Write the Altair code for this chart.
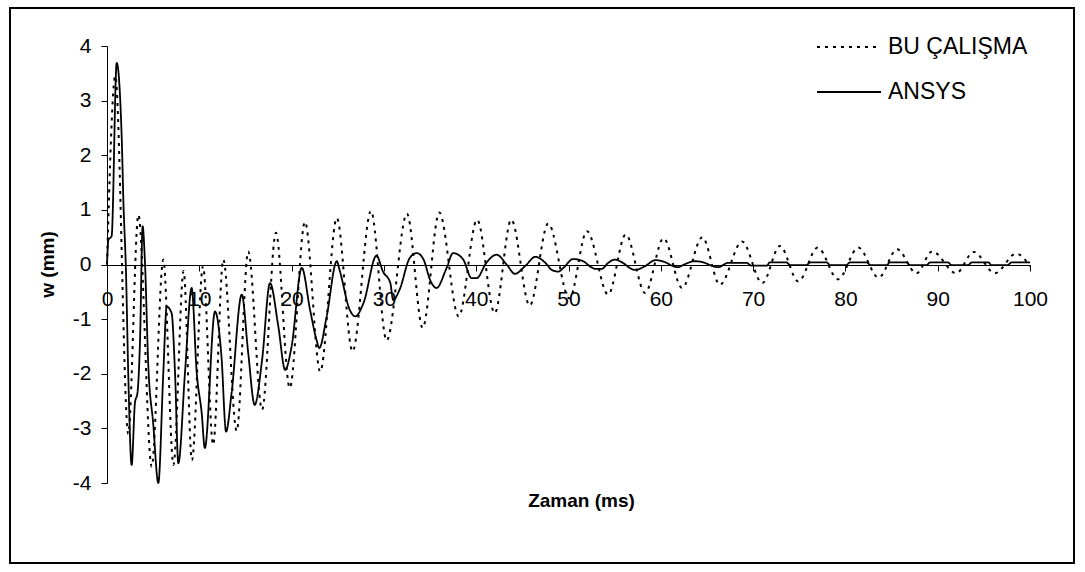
import altair as alt
import pandas as pd

# Deflection history w(t) of the plate centre: this study vs. ANSYS
bu_t = [0, 0.9, 2.3, 3.4, 4.84, 6.1, 7.2, 8.3, 9.2, 10.4, 11.5, 12.6, 14.05, 15.3,
        16.8, 18.3, 19.8, 21.45, 23.1, 24.9, 26.6, 28.6, 30.3, 32.5, 34.2, 36.0,
        38.1, 40.1, 42.0, 43.8, 45.8, 47.8, 50.1, 52.0, 54.3, 56.2, 58.3, 60.3,
        62.3, 64.5, 66.4, 68.8, 71.0, 72.9, 74.9, 77.0, 79.2, 81.4, 83.6, 85.6,
        87.7, 89.4, 92.0, 93.9, 96.2, 98.5, 100]
bu_w = [0, 3.45, -3.1, 0.91, -3.7, 0.09, -3.67, -0.12, -3.58, -0.03, -3.3, 0.09,
        -3.05, 0.24, -2.66, 0.58, -2.26, 0.78, -1.96, 0.85, -1.59, 0.98, -1.39,
        0.93, -1.16, 0.95, -0.95, 0.82, -0.89, 0.82, -0.75, 0.75, -0.62, 0.61,
        -0.55, 0.55, -0.52, 0.48, -0.43, 0.5, -0.37, 0.42, -0.34, 0.34, -0.31,
        0.31, -0.27, 0.31, -0.24, 0.28, -0.16, 0.24, -0.16, 0.23, -0.16, 0.2, -0.03]

ansys_t = [0, 0.15, 0.5, 1.05, 1.6, 1.77, 2.06, 2.3, 2.67, 3.03, 3.3, 3.58, 3.86,
           4.1, 4.48, 5.0, 5.56, 6.1, 6.47, 7.0, 7.37, 7.73, 8.45, 9.17, 9.72,
           10.26, 10.6, 11.7, 12.4, 12.9, 13.5, 14.6, 15.3, 16.0, 16.8, 17.66,
           18.56, 19.3, 20.0, 21.1, 22.0, 22.7, 23.0, 23.8, 24.9, 25.2, 26.3, 26.9,
           27.8, 29.2, 29.9, 30.7, 31.0, 31.7, 32.8, 33.55, 34.3, 35.0, 35.7, 36.8,
           37.5, 38.6, 39.5, 40.05, 41.1, 42.2, 43.3, 44.2, 45.3, 46.4, 47.5, 48.2,
           48.9, 49.4, 50.5, 51.6, 52.3, 52.9, 53.6, 54.3, 55.0, 55.9, 56.7, 57.2,
           58.3, 59.4, 60.5, 61.2, 61.9, 62.4, 63.7, 64.6, 65.5, 66.2, 67.3, 69.3,
           69.8, 71.5, 71.8, 73.6, 74.0, 75.8, 76.2, 78.0, 78.3, 80.1, 80.5, 82.3,
           82.7, 84.5, 84.8, 86.6, 87.0, 88.8, 89.2, 91.1, 91.5, 93.3, 93.7, 95.5,
           95.8, 97.6, 98.0, 100]
ansys_w = [0, 0.45, 0.52, 3.69, 2.29, 1.19, -0.15, -1.98, -3.67, -2.53, -2.35, -1.38,
           0.70, 0.09, -1.87, -2.9, -4.0, -1.98, -0.77, -0.89, -1.98, -3.64, -1.98,
           -0.43, -1.98, -2.72, -3.36, -0.86, -1.68, -3.06, -2.35, -0.55, -1.62,
           -2.57, -1.75, -0.34, -1.13, -1.93, -1.5, -0.06, -0.83, -1.38, -1.53,
           -0.95, 0.06, -0.1, -0.83, -0.95, -0.7, 0.16, -0.13, -0.34, -0.65, -0.46,
           0.12, 0.21, 0.09, -0.28, -0.43, -0.06, 0.21, 0.09, -0.25, -0.25, 0.03,
           0.18, 0.0, -0.17, -0.03, 0.14, 0.03, -0.1, -0.13, -0.07, 0.1, 0.06, -0.03,
           -0.08, -0.08, 0.03, 0.09, 0.03, -0.07, -0.1, -0.03, 0.08, 0.04, -0.02,
           -0.05, -0.01, 0.06, 0.04, -0.02, -0.05, 0.03, 0.03, -0.02, -0.02, 0.04,
           0.04, -0.01, -0.01, 0.04, 0.04, -0.01, -0.01, 0.04, 0.04, -0.01, -0.01,
           0.04, 0.04, -0.01, -0.01, 0.04, 0.04, -0.01, -0.01, 0.04, 0.04, -0.01,
           -0.01, 0.04, 0.04]

series = ["BU ÇALIŞMA", "ANSYS"]
x_ticks = list(range(0, 101, 10))
y_ticks = list(range(-4, 5))

bu = pd.DataFrame({"t": bu_t, "w": bu_w, "seri": series[0]})
ansys = pd.DataFrame({"t": ansys_t, "w": ansys_w, "seri": series[1]})

W, H = 923, 437
FONT = "Liberation Sans"

x_enc = alt.X(
    "t:Q",
    scale=alt.Scale(domain=[0, 100], nice=False, zero=False),
    axis=alt.Axis(
        values=x_ticks, title="Zaman (ms)", offset=-218, labelPadding=17,
        labelFlush=False, labelOverlap=False,
        titleX=474, titleY=235, titleBaseline="middle", titleAlign="center",
    ),
)
y_enc = alt.Y(
    "w:Q",
    scale=alt.Scale(domain=[-4, 4], nice=False),
    axis=alt.Axis(
        values=y_ticks, title="w (mm)", labelPadding=10,
        labelExpr="'' + datum.value", labelFlush=False, labelOverlap=False,
        titleX=-60, titleY=218, titleAngle=270, titleBaseline="middle",
        titleAlign="center",
    ),
)
dash_enc = alt.StrokeDash(
    "seri:N",
    scale=alt.Scale(domain=series, range=[[3, 5], [1, 0]]),
    legend=alt.Legend(
        title=None, orient="none", legendX=709, legendY=-32,
        symbolSize=4096, symbolStrokeWidth=2, symbolStrokeColor="black",
        labelFontSize=23, labelFont=FONT, labelColor="black", labelOffset=6,
        rowPadding=-1,
    ),
)

dotted = alt.Chart(bu).mark_line(
    color="black", strokeWidth=2, interpolate="monotone"
).encode(x=x_enc, y=y_enc, strokeDash=dash_enc)

solid = alt.Chart(ansys).mark_line(
    color="black", strokeWidth=1.8, interpolate="monotone"
).encode(x=x_enc, y=y_enc, strokeDash=dash_enc)

# Outer frame around the whole figure
frame = alt.Chart(pd.DataFrame({"k": [0]})).mark_rect(
    fillOpacity=0, stroke="black", strokeWidth=2
).encode(
    x=alt.value(-97), x2=alt.value(967), y=alt.value(-38), y2=alt.value(517)
)

chart = (
    alt.layer(frame, dotted, solid)
    .properties(
        width=W, height=H, autosize="none",
        padding={"left": 107, "top": 46, "right": 55, "bottom": 89},
        background="white",
    )
    .configure_view(strokeWidth=0)
    .configure_axis(
        grid=False, domainColor="black", domainWidth=1, tickColor="black",
        tickWidth=1, tickSize=6, labelColor="black", labelFont=FONT,
        labelFontSize=21, titleColor="black", titleFont=FONT, titleFontSize=19,
        titleFontWeight="bold",
    )
)

chart.save("out.html", embed_options={"renderer": "svg", "actions": False})
